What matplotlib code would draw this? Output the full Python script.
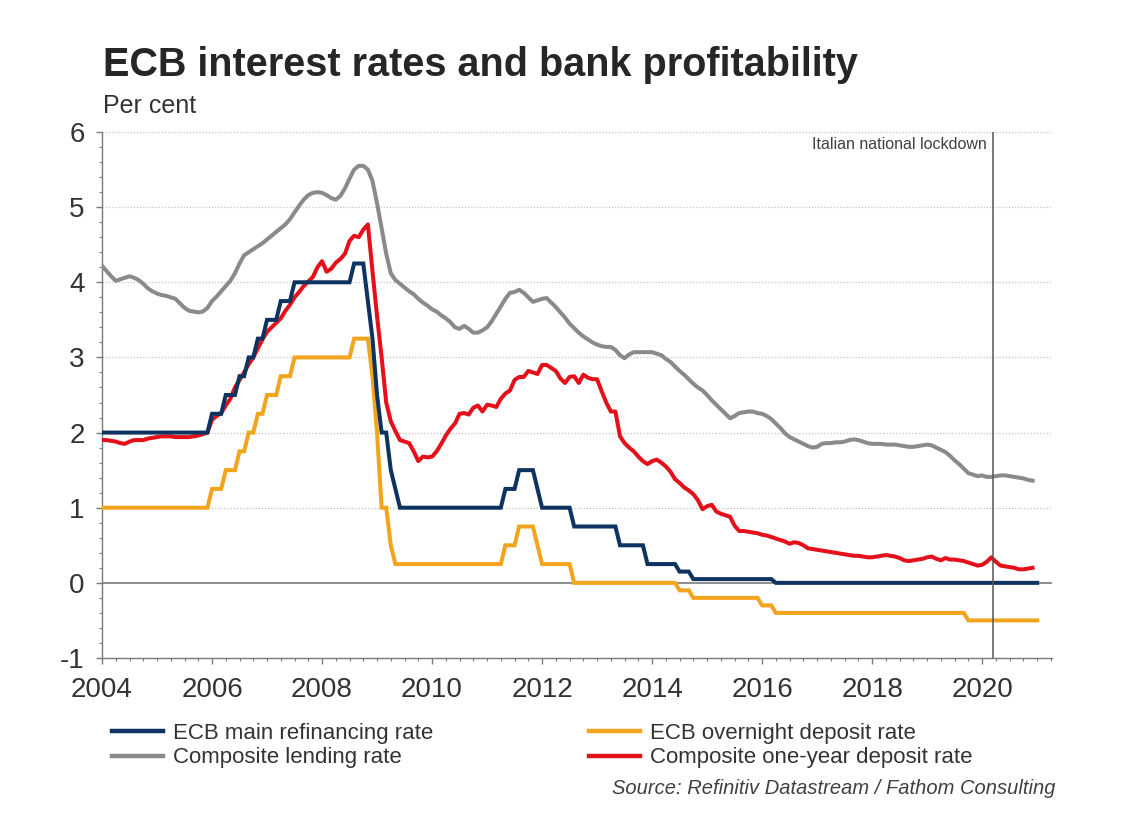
import matplotlib
matplotlib.use("Agg")
import matplotlib.pyplot as plt
import numpy as np

plt.rcParams['font.family'] = ['Liberation Sans', 'DejaVu Sans']

# ---------------- data (monthly, Jan 2004 onwards) ----------------
start_year = 2004

# ECB main refinancing rate (start of month), Jan 2004 - Jan 2021
refi_rate = (
    [2.0] * 12 +                                                     # 2004
    [2.0] * 12 +                                                     # 2005
    [2.25, 2.25, 2.25, 2.5, 2.5, 2.5, 2.75, 2.75, 3.0, 3.0, 3.25, 3.25] +  # 2006
    [3.5, 3.5, 3.5, 3.75, 3.75, 3.75, 4.0, 4.0, 4.0, 4.0, 4.0, 4.0] +      # 2007
    [4.0, 4.0, 4.0, 4.0, 4.0, 4.0, 4.0, 4.25, 4.25, 4.25, 3.75, 3.25] +    # 2008
    [2.5, 2.0, 2.0, 1.5, 1.25, 1.0, 1.0, 1.0, 1.0, 1.0, 1.0, 1.0] +        # 2009
    [1.0] * 12 +                                                     # 2010
    [1.0, 1.0, 1.0, 1.0, 1.25, 1.25, 1.25, 1.5, 1.5, 1.5, 1.5, 1.25] +     # 2011
    [1.0, 1.0, 1.0, 1.0, 1.0, 1.0, 1.0, 0.75, 0.75, 0.75, 0.75, 0.75] +    # 2012
    [0.75, 0.75, 0.75, 0.75, 0.75, 0.5, 0.5, 0.5, 0.5, 0.5, 0.5, 0.25] +   # 2013
    [0.25, 0.25, 0.25, 0.25, 0.25, 0.25, 0.15, 0.15, 0.15, 0.05, 0.05, 0.05] +  # 2014
    [0.05] * 12 +                                                    # 2015
    [0.05, 0.05, 0.05, 0.0, 0.0, 0.0, 0.0, 0.0, 0.0, 0.0, 0.0, 0.0] +      # 2016
    [0.0] * 12 + [0.0] * 12 + [0.0] * 12 + [0.0] * 12 +             # 2017-2020
    [0.0]                                                            # Jan 2021
)

# ECB overnight deposit rate (start of month), Jan 2004 - Jan 2021
deposit_rate = (
    [1.0] * 12 +                                                     # 2004
    [1.0] * 12 +                                                     # 2005
    [1.25, 1.25, 1.25, 1.5, 1.5, 1.5, 1.75, 1.75, 2.0, 2.0, 2.25, 2.25] +  # 2006
    [2.5, 2.5, 2.5, 2.75, 2.75, 2.75, 3.0, 3.0, 3.0, 3.0, 3.0, 3.0] +      # 2007
    [3.0, 3.0, 3.0, 3.0, 3.0, 3.0, 3.0, 3.25, 3.25, 3.25, 3.25, 2.75] +    # 2008
    [2.0, 1.0, 1.0, 0.5, 0.25, 0.25, 0.25, 0.25, 0.25, 0.25, 0.25, 0.25] + # 2009
    [0.25] * 12 +                                                    # 2010
    [0.25, 0.25, 0.25, 0.25, 0.5, 0.5, 0.5, 0.75, 0.75, 0.75, 0.75, 0.5] + # 2011
    [0.25, 0.25, 0.25, 0.25, 0.25, 0.25, 0.25, 0.0, 0.0, 0.0, 0.0, 0.0] +  # 2012
    [0.0] * 12 +                                                     # 2013
    [0.0, 0.0, 0.0, 0.0, 0.0, 0.0, -0.1, -0.1, -0.1, -0.2, -0.2, -0.2] +   # 2014
    [-0.2] * 12 +                                                    # 2015
    [-0.3, -0.3, -0.3, -0.4, -0.4, -0.4, -0.4, -0.4, -0.4, -0.4, -0.4, -0.4] +  # 2016
    [-0.4] * 12 + [-0.4] * 12 +                                      # 2017-2018
    [-0.4, -0.4, -0.4, -0.4, -0.4, -0.4, -0.4, -0.4, -0.4, -0.5, -0.5, -0.5] +  # 2019
    [-0.5] * 12 +                                                    # 2020
    [-0.5]                                                           # Jan 2021
)

# Composite lending rate, Jan 2004 - Dec 2020
lending_rate = (
    [4.22, 4.15, 4.08, 4.02, 4.04, 4.06, 4.08, 4.06, 4.03, 3.98, 3.92, 3.88] +  # 2004
    [3.85, 3.83, 3.82, 3.80, 3.78, 3.72, 3.66, 3.62, 3.61, 3.60, 3.61, 3.66] +  # 2005
    [3.75, 3.81, 3.88, 3.95, 4.02, 4.12, 4.25, 4.36, 4.40, 4.44, 4.48, 4.52] +  # 2006
    [4.57, 4.62, 4.67, 4.72, 4.77, 4.84, 4.93, 5.02, 5.10, 5.16, 5.19, 5.20] +  # 2007
    [5.19, 5.16, 5.12, 5.10, 5.15, 5.25, 5.38, 5.50, 5.55, 5.55, 5.50, 5.35] +  # 2008
    [5.05, 4.72, 4.38, 4.12, 4.03, 3.98, 3.93, 3.88, 3.84, 3.78, 3.73, 3.69] +  # 2009
    [3.64, 3.61, 3.56, 3.52, 3.47, 3.40, 3.38, 3.42, 3.38, 3.33, 3.33, 3.36] +  # 2010
    [3.40, 3.48, 3.58, 3.68, 3.78, 3.86, 3.87, 3.90, 3.86, 3.80, 3.74, 3.76] +  # 2011
    [3.78, 3.79, 3.73, 3.67, 3.60, 3.53, 3.45, 3.39, 3.33, 3.28, 3.24, 3.20] +  # 2012
    [3.17, 3.15, 3.14, 3.14, 3.10, 3.03, 2.99, 3.04, 3.07, 3.07, 3.07, 3.07] +  # 2013
    [3.07, 3.05, 3.03, 2.98, 2.94, 2.88, 2.82, 2.77, 2.71, 2.65, 2.60, 2.56] +  # 2014
    [2.50, 2.43, 2.37, 2.31, 2.25, 2.19, 2.22, 2.26, 2.27, 2.28, 2.28, 2.26] +  # 2015
    [2.25, 2.22, 2.18, 2.12, 2.06, 1.99, 1.94, 1.91, 1.88, 1.85, 1.82, 1.80] +  # 2016
    [1.81, 1.85, 1.86, 1.86, 1.87, 1.87, 1.88, 1.90, 1.91, 1.90, 1.88, 1.86] +  # 2017
    [1.85, 1.85, 1.85, 1.84, 1.84, 1.84, 1.83, 1.82, 1.81, 1.81, 1.82, 1.83] +  # 2018
    [1.84, 1.83, 1.80, 1.77, 1.74, 1.69, 1.63, 1.58, 1.52, 1.46, 1.44, 1.42] +  # 2019
    [1.43, 1.41, 1.41, 1.42, 1.43, 1.43, 1.42, 1.41, 1.40, 1.39, 1.37, 1.36]    # 2020
)

# Composite one-year deposit rate, Jan 2004 - Dec 2020
oneyear_deposit = (
    [1.90, 1.90, 1.89, 1.88, 1.86, 1.85, 1.88, 1.90, 1.90, 1.90, 1.92, 1.93] +  # 2004
    [1.94, 1.95, 1.95, 1.95, 1.94, 1.94, 1.94, 1.94, 1.95, 1.96, 1.98, 2.00] +  # 2005
    [2.17, 2.22, 2.26, 2.36, 2.45, 2.60, 2.70, 2.80, 2.91, 3.00, 3.12, 3.24] +  # 2006
    [3.34, 3.40, 3.46, 3.52, 3.62, 3.70, 3.80, 3.87, 3.95, 4.01, 4.07, 4.20] +  # 2007
    [4.28, 4.14, 4.18, 4.26, 4.31, 4.38, 4.55, 4.62, 4.60, 4.70, 4.77, 4.15] +  # 2008
    [3.55, 3.00, 2.40, 2.15, 2.02, 1.90, 1.88, 1.86, 1.75, 1.62, 1.68, 1.67] +  # 2009
    [1.68, 1.75, 1.85, 1.96, 2.05, 2.12, 2.25, 2.26, 2.24, 2.33, 2.36, 2.28] +  # 2010
    [2.37, 2.36, 2.34, 2.45, 2.52, 2.56, 2.70, 2.74, 2.74, 2.82, 2.80, 2.78] +  # 2011
    [2.90, 2.90, 2.86, 2.82, 2.72, 2.66, 2.74, 2.75, 2.66, 2.77, 2.73, 2.71] +  # 2012
    [2.71, 2.55, 2.40, 2.28, 2.28, 1.95, 1.86, 1.80, 1.75, 1.68, 1.62, 1.58] +  # 2013
    [1.62, 1.64, 1.60, 1.55, 1.48, 1.38, 1.33, 1.27, 1.23, 1.18, 1.10, 0.98] +  # 2014
    [1.02, 1.04, 0.95, 0.92, 0.90, 0.88, 0.76, 0.69, 0.69, 0.68, 0.67, 0.66] +  # 2015
    [0.64, 0.63, 0.61, 0.59, 0.57, 0.55, 0.52, 0.54, 0.53, 0.50, 0.46, 0.45] +  # 2016
    [0.44, 0.43, 0.42, 0.41, 0.40, 0.39, 0.38, 0.37, 0.36, 0.36, 0.35, 0.34] +  # 2017
    [0.34, 0.35, 0.36, 0.37, 0.36, 0.35, 0.33, 0.30, 0.29, 0.30, 0.31, 0.32] +  # 2018
    [0.34, 0.35, 0.32, 0.30, 0.33, 0.31, 0.31, 0.30, 0.29, 0.27, 0.25, 0.23] +  # 2019
    [0.24, 0.28, 0.34, 0.28, 0.23, 0.22, 0.21, 0.20, 0.18, 0.18, 0.19, 0.20]    # 2020
)

series_labels = ["ECB main refinancing rate", "ECB overnight deposit rate",
                 "Composite lending rate", "Composite one-year deposit rate"]
x_tick_years = [2004, 2006, 2008, 2010, 2012, 2014, 2016, 2018, 2020]
y_ticks = [-1, 0, 1, 2, 3, 4, 5, 6]
lockdown_date = 2020.19
lockdown_label = "Italian national lockdown"

# ---------------- styling ----------------
C_BLUE = "#0d3461"
C_ORANGE = "#f2a51c"
C_GREY = "#8a8a8a"
C_RED = "#e4101a"
TXT = "#333333"

W, H = 1125, 835
fig = plt.figure(figsize=(W / 100, H / 100), dpi=100)
fig.patch.set_facecolor("white")

L, R, T, B = 102, 1052, 132, 658
ax = fig.add_axes([L / W, 1 - B / H, (R - L) / W, (B - T) / H])

def months(n):
    return start_year + np.arange(n) / 12.0

lw = 2.9
h_grey, = ax.plot(months(len(lending_rate)), lending_rate, color=C_GREY, lw=lw,
                  solid_joinstyle="round", zorder=3)
h_red, = ax.plot(months(len(oneyear_deposit)), oneyear_deposit, color=C_RED, lw=lw,
                 solid_joinstyle="round", zorder=4)
h_orange, = ax.plot(months(len(deposit_rate)), deposit_rate, color=C_ORANGE, lw=lw,
                    solid_joinstyle="miter", zorder=5)
h_blue, = ax.plot(months(len(refi_rate)), refi_rate, color=C_BLUE, lw=lw,
                  solid_joinstyle="miter", zorder=6)

ax.set_xlim(2004, 2021.27)
ax.set_ylim(-1, 6)

# grid & zero line
for yv in y_ticks:
    if yv in (0, -1):
        continue
    ax.axhline(yv, color="#c4c4c4", lw=0.9, ls=(0, (1, 1.5)), zorder=1)
ax.axhline(0, color="#7a7a7a", lw=1.2, zorder=2)

# lockdown line
ax.axvline(lockdown_date, color="#555555", lw=1.1, zorder=7)
ax.text(lockdown_date - 0.1, 5.83, lockdown_label, ha="right", va="center",
        fontsize=11.5, color="#404040")

for s in ["top", "right"]:
    ax.spines[s].set_visible(False)
for s in ["left", "bottom"]:
    ax.spines[s].set_color("#7a7a7a")
    ax.spines[s].set_linewidth(1.0)

ax.set_xticks(x_tick_years)
ax.set_xticklabels([str(y) for y in x_tick_years])
ax.set_xticks(np.arange(2004, 2021.3, 0.25), minor=True)
ax.set_yticks(y_ticks)
ax.set_yticklabels([str(y) for y in y_ticks])
ax.set_yticks(np.arange(-1, 6.01, 0.2), minor=True)

ax.tick_params(axis="both", which="major", labelsize=20, labelcolor=TXT,
               color="#7a7a7a", length=4.5, width=1.0)
ax.tick_params(axis="both", which="minor", color="#7a7a7a", length=2.5, width=0.8)
ax.tick_params(axis="x", which="major", pad=9)
ax.tick_params(axis="y", which="major", pad=8)

# title & subtitle
fig.text(103 / W, 1 - 76 / H, "ECB interest rates and bank profitability",
         fontsize=28.5, fontweight="bold", color="#262626", va="baseline", ha="left")
fig.text(103 / W, 1 - 113 / H, "Per cent", fontsize=18, color=TXT,
         va="baseline", ha="left")

# legend
handles = [h_blue, h_grey, h_orange, h_red]
labels = [series_labels[0], series_labels[2], series_labels[1], series_labels[3]]
leg = fig.legend(handles, labels, ncol=2, loc="upper left",
                 bbox_to_anchor=(112 / W, 1 - 723 / H), bbox_transform=fig.transFigure,
                 frameon=False, fontsize=16, handlelength=2.3, handletextpad=0.45,
                 columnspacing=7.0, labelspacing=0.15, borderpad=0, borderaxespad=0)
for t in leg.get_texts():
    t.set_color(TXT)
for lh in leg.get_lines():
    lh.set_linewidth(3.2)

fig.text(612 / W, 1 - 794 / H, "Source: Refinitiv Datastream / Fathom Consulting",
         fontsize=14.5, style="italic", color="#404040", va="baseline", ha="left")

fig.savefig("out.png", dpi=100, facecolor="white")
